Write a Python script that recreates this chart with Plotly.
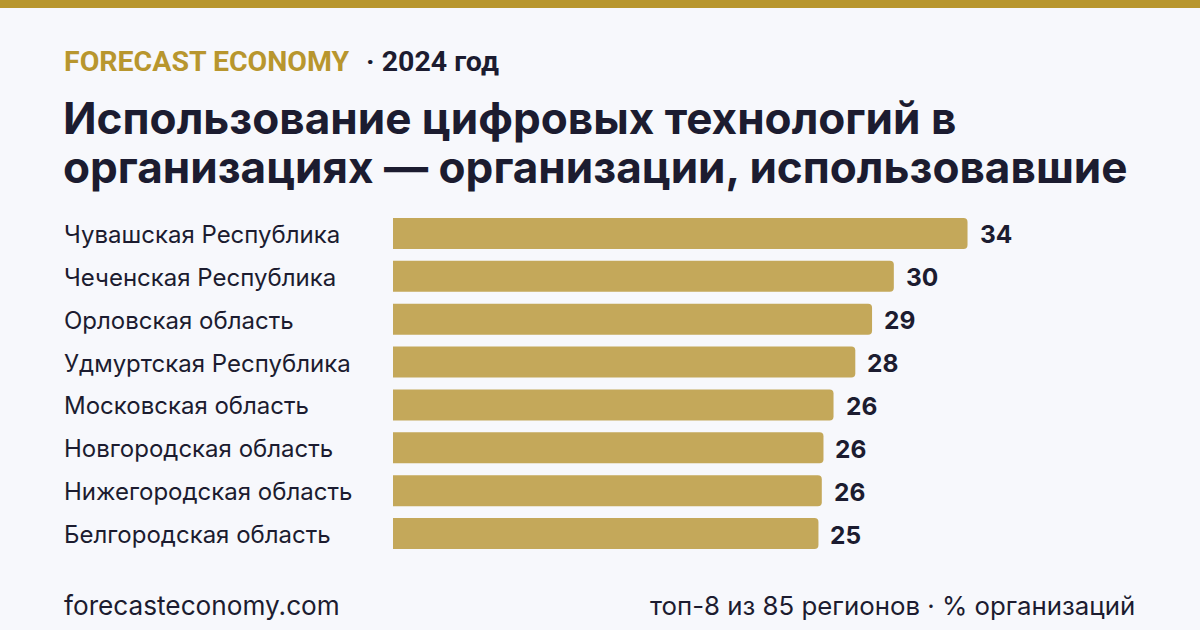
import plotly.graph_objects as go

regions = ["Чувашская Республика", "Чеченская Республика", "Орловская область",
           "Удмуртская Республика", "Московская область", "Новгородская область",
           "Нижегородская область", "Белгородская область"]
values = [34.3, 29.9, 28.6, 27.6, 26.3, 25.7, 25.6, 25.4]
value_labels = ["34", "30", "29", "28", "26", "26", "26", "25"]

brand = "FORECAST ECONOMY"
year_txt = "· 2024 год"
title_lines = ["Использование цифровых технологий в",
               "организациях — организации, использовавшие"]
footer_left = "forecasteconomy.com"
footer_right = "топ-8 из 85 регионов · % организаций"

W, H = 1200, 630
L, R, T, B = 393, 60, 212, 75
PW, PH = W - L - R, H - T - B

def px2x(px):
    return (px - L) / PW

def py2y(py):
    return (H - B - py) / PH

BG = "#f7f8fc"
GOLD = "#b8962e"
BAR = "#c4a85a"
INK = "#1c1c30"

fig = go.Figure(go.Bar(
    x=values, y=regions, orientation="h",
    marker=dict(color=BAR, line=dict(width=0)),
    hoverinfo="skip",
))

ann = []
for r, v, lab in zip(regions, values, value_labels):
    ann.append(dict(x=v, y=r, xref="x", yref="y", text=lab, showarrow=False,
                    xanchor="left", yanchor="middle", xshift=10, yshift=-1,
                    font=dict(family="Inter", size=24.5, color=INK, weight="bold")))
    ann.append(dict(x=px2x(62), y=r, xref="paper", yref="y", text=r, showarrow=False,
                    xanchor="left", yanchor="middle", yshift=-1,
                    font=dict(family="Inter", size=24, color=INK)))

ann.append(dict(x=px2x(62), y=py2y(61), xref="paper", yref="paper", text=brand,
                showarrow=False, xanchor="left", yanchor="middle",
                font=dict(family="Roboto", size=28.5, color=GOLD, weight="bold")))
ann.append(dict(x=px2x(364), y=py2y(61), xref="paper", yref="paper", text=year_txt,
                showarrow=False, xanchor="left", yanchor="middle",
                font=dict(family="Roboto", size=28.5, color=INK, weight="bold")))
for i, line in enumerate(title_lines):
    ann.append(dict(x=px2x(61), y=py2y(118 + 49 * i), xref="paper", yref="paper", text=line,
                    showarrow=False, xanchor="left", yanchor="middle",
                    font=dict(family="Inter", size=44.1, color=INK, weight="bold")))
ann.append(dict(x=px2x(62), y=py2y(605), xref="paper", yref="paper", text=footer_left,
                showarrow=False, xanchor="left", yanchor="middle",
                font=dict(family="Inter", size=26.2, color=INK)))
ann.append(dict(x=px2x(1137), y=py2y(605), xref="paper", yref="paper", text=footer_right,
                showarrow=False, xanchor="right", yanchor="middle",
                font=dict(family="Inter", size=25.8, color=INK)))

fig.add_shape(type="rect", xref="paper", yref="paper",
              x0=px2x(0), x1=px2x(W), y0=py2y(8), y1=py2y(0),
              fillcolor=GOLD, line=dict(width=0), layer="above")

fig.update_layout(
    width=W, height=H,
    margin=dict(l=L, r=R, t=T, b=B, pad=0),
    paper_bgcolor=BG, plot_bgcolor=BG,
    bargap=0.277, barcornerradius=4,
    showlegend=False,
    xaxis=dict(range=[0, PW / 16.75], visible=False, fixedrange=True),
    yaxis=dict(autorange="reversed", visible=False, fixedrange=True),
    annotations=ann,
)

fig.write_html("out.html", config={"displayModeBar": False})
